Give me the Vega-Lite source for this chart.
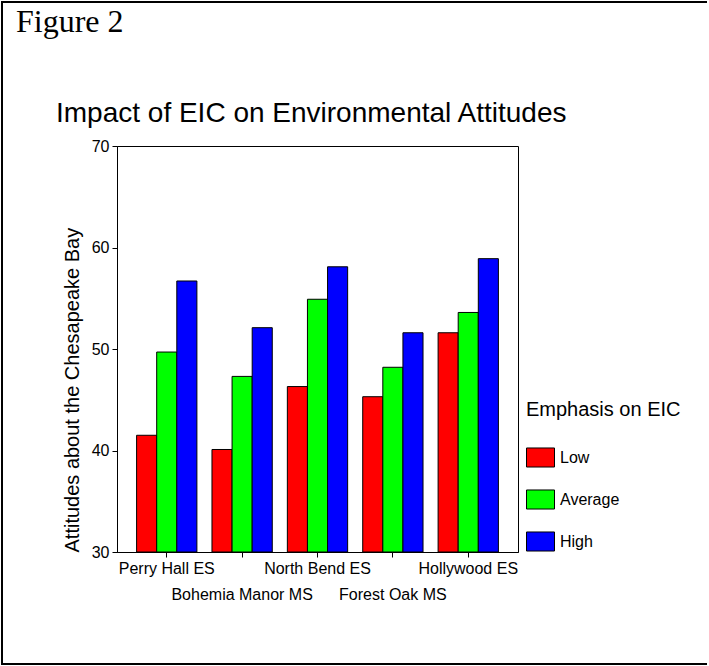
{
  "$schema": "https://vega.github.io/schema/vega-lite/v6.json",
  "autosize": {"type": "pad"},
  "padding": 0,
  "background": "white",
  "title": {
    "text": "Figure 2",
    "anchor": "start",
    "frame": "group",
    "font": "Liberation Serif",
    "fontSize": 32,
    "fontWeight": "normal",
    "color": "black",
    "baseline": "alphabetic",
    "offset": -63.7,
    "dx": -101
  },
  "vconcat": [
    {
      "width": 401,
      "height": 406,
      "title": {
        "text": "Impact of EIC on Environmental Attitudes",
        "anchor": "start",
        "frame": "group",
        "font": "Liberation Sans",
        "fontSize": 28,
        "fontWeight": "normal",
        "color": "black",
        "baseline": "alphabetic",
        "offset": -149,
        "dx": -61
      },
      "layer": [
        {
          "data": {"values": [{}]},
          "mark": {"type": "rule", "color": "black", "strokeWidth": 2, "strokeCap": "square"},
          "encoding": {"x": {"value": -115}, "y": {"value": -144}, "y2": {"value": 518}}
        },
        {
          "data": {"values": [{}]},
          "mark": {"type": "rule", "color": "black", "strokeWidth": 2},
          "encoding": {"x": {"value": -115}, "x2": {"value": 590}, "y": {"value": -144}}
        },
        {
          "data": {"values": [{}]},
          "mark": {"type": "rule", "color": "black", "strokeWidth": 2},
          "encoding": {"x": {"value": -115}, "x2": {"value": 590}, "y": {"value": 518}}
        },
        {
          "data": {
            "values": [
              {"school": "Perry Hall ES", "emphasis": "Low", "score": 41.5},
              {"school": "Perry Hall ES", "emphasis": "Average", "score": 49.7},
              {"school": "Perry Hall ES", "emphasis": "High", "score": 56.7},
              {"school": "Bohemia Manor MS", "emphasis": "Low", "score": 40.1},
              {"school": "Bohemia Manor MS", "emphasis": "Average", "score": 47.3},
              {"school": "Bohemia Manor MS", "emphasis": "High", "score": 52.1},
              {"school": "North Bend ES", "emphasis": "Low", "score": 46.3},
              {"school": "North Bend ES", "emphasis": "Average", "score": 54.9},
              {"school": "North Bend ES", "emphasis": "High", "score": 58.1},
              {"school": "Forest Oak MS", "emphasis": "Low", "score": 45.3},
              {"school": "Forest Oak MS", "emphasis": "Average", "score": 48.2},
              {"school": "Forest Oak MS", "emphasis": "High", "score": 51.6},
              {"school": "Hollywood ES", "emphasis": "Low", "score": 51.6},
              {"school": "Hollywood ES", "emphasis": "Average", "score": 53.6},
              {"school": "Hollywood ES", "emphasis": "High", "score": 58.9}
            ]
          },
          "mark": {"type": "bar", "stroke": "black", "strokeWidth": 1, "opacity": 1},
          "encoding": {
            "x": {
              "field": "school",
              "type": "nominal",
              "sort": ["Perry Hall ES", "Bohemia Manor MS", "North Bend ES", "Forest Oak MS", "Hollywood ES"],
              "scale": {"paddingInner": 0.2, "paddingOuter": 0.26},
              "axis": {
                "title": null,
                "labelAngle": 0,
                "labelFontSize": 16,
                "labelLineHeight": 26,
                "labelOverlap": false,
                "labelBound": false,
                "labelPadding": 3,
                "tickSize": 5,
                "labelExpr": "indexof(['Bohemia Manor MS','Forest Oak MS'], datum.value) >= 0 ? ['', datum.value] : datum.value"
              }
            },
            "xOffset": {
              "field": "emphasis",
              "type": "nominal",
              "sort": ["Low", "Average", "High"],
              "scale": {"paddingInner": 0, "paddingOuter": 0}
            },
            "y": {
              "field": "score",
              "type": "quantitative",
              "scale": {"domain": [30, 70], "zero": false, "nice": false},
              "axis": {
                "title": "Attitudes about the Chesapeake Bay",
                "values": [30, 40, 50, 60, 70],
                "titleAnchor": "start",
                "titleFontSize": 20,
                "titleFontWeight": "normal",
                "titlePadding": 9,
                "labelFontSize": 16,
                "labelPadding": 3,
                "tickSize": 5
              }
            },
            "y2": {"datum": 30},
            "color": {
              "field": "emphasis",
              "type": "nominal",
              "scale": {"domain": ["Low", "Average", "High"], "range": ["#ff0000", "#00ff00", "#0000ff"]},
              "legend": {
                "title": "Emphasis on EIC",
                "orient": "none",
                "legendX": 409,
                "legendY": 254,
                "padding": 0,
                "titleFontSize": 20,
                "titleFontWeight": "normal",
                "titleFont": "Liberation Sans",
                "titleColor": "black",
                "titlePadding": 23,
                "labelFontSize": 16,
                "labelFont": "Liberation Sans",
                "labelColor": "black",
                "labelOffset": 5,
                "rowPadding": 15,
                "symbolType": "M-1,-0.68L1,-0.68L1,0.68L-1,0.68Z",
                "symbolSize": 784,
                "symbolStrokeColor": "black",
                "symbolStrokeWidth": 1,
                "symbolOpacity": 1
              }
            }
          }
        }
      ]
    }
  ],
  "config": {
    "font": "Liberation Sans",
    "view": {"stroke": "black", "strokeWidth": 1},
    "axis": {
      "grid": false,
      "domainColor": "black",
      "tickColor": "black",
      "labelColor": "black",
      "titleColor": "black",
      "labelFont": "Liberation Sans",
      "titleFont": "Liberation Sans"
    }
  }
}
